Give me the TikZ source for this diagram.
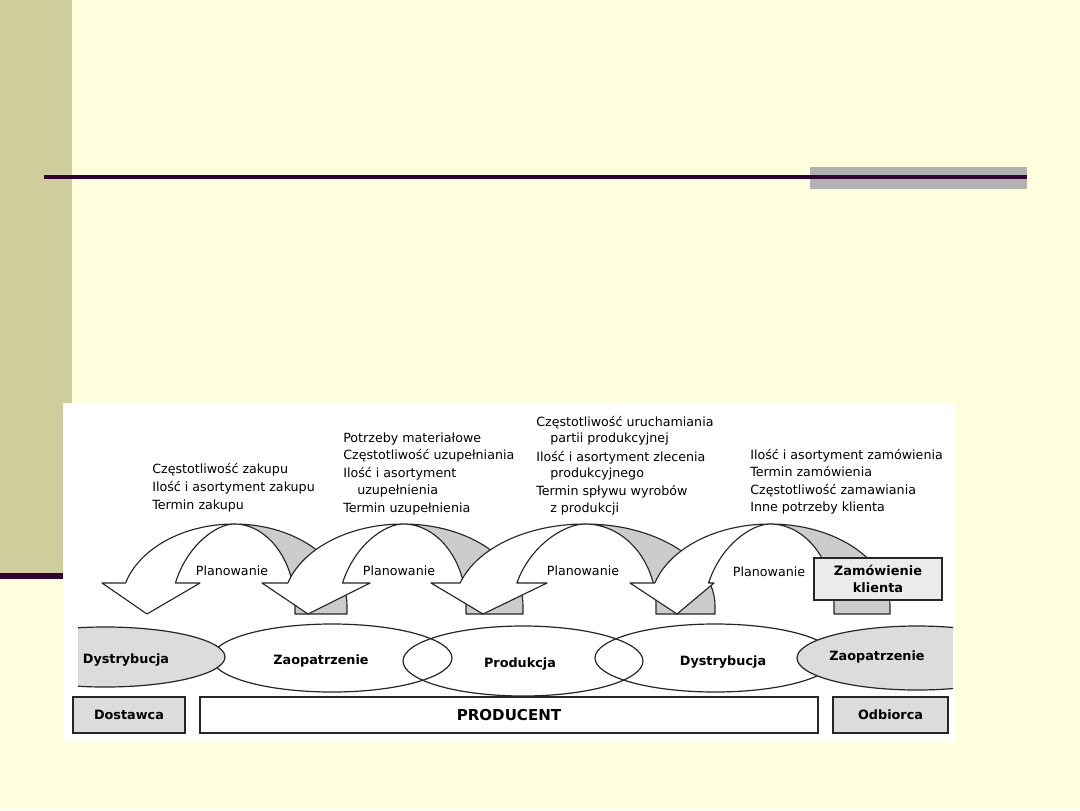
\documentclass[tikz,border=0pt]{standalone}
\usepackage{fontspec}
\setmainfont{DejaVu Sans}
\definecolor{cream}{HTML}{FFFFDD}
\definecolor{olive}{HTML}{CFCD9B}
\definecolor{plum}{HTML}{330033}
\definecolor{barg}{HTML}{B2B2B2}
\definecolor{ribg}{HTML}{CCCCCC}
\definecolor{lblg}{HTML}{DCDCDC}
\definecolor{boxg}{HTML}{EBEBEB}
\tikzset{
  ribline/.style={draw=black!85, line width=0.85pt, line join=round},
  txt/.style={inner sep=0pt, anchor=base west, font=\fontsize{9.5}{11}\selectfont},
  plan/.style={inner sep=0pt, font=\fontsize{9.5}{11}\selectfont},
  lbl/.style={inner sep=0pt, font=\fontsize{9.6}{11}\selectfont\bfseries},
  ell/.style={draw=black!85, line width=0.9pt},
  boxs/.style={draw=black!85, line width=0.8pt, inner sep=0pt},
}
\newcommand\ribbon[6]{%
  \filldraw[ribline, fill=ribg] (#1,524) arc[start angle=270,end angle=360,x radius=#2,y radius=82]
     -- ++(0,8) -- ({#1+#3},614) -- ({#1+#3},606)
     arc[start angle=0,end angle=-90,x radius=#3,y radius=82] -- cycle;
  \filldraw[ribline, fill=white] ({#1-0.9598*#2},583)
     arc[start angle=196.3,end angle=270,x radius=#2,y radius=82]
     .. controls ({#1-0.288*#3},524) and ({#1-0.768*#3},545) .. ({#1-0.96*#3},583)
     -- (#6,583) -- (#5,614) -- (#4,583) -- cycle;
}
\begin{document}
\begin{tikzpicture}[x=0.75pt,y=0.75pt,yscale=-1]
\useasboundingbox (0,0) rectangle (1080,810);
\fill[cream] (0,0) rectangle (1080,810);
\fill[olive] (0,0) rectangle (72,576);
\fill[plum] (0,573) rectangle (72,579);
\fill[barg] (810,167) rectangle (1027,189);
\fill[plum] (44,175) rectangle (1027,179);
\fill[white] (63,403) rectangle (955,742);

% text blocks
\node[txt] (t1a) at (152,473) {Częstotliwość zakupu};
\node[txt] (t1b) at (152,491) {Ilość i asortyment zakupu};
\node[txt] (t1c) at (152,509) {Termin zakupu};

\node[txt] (t2a) at (343,442) {Potrzeby materiałowe};
\node[txt] (t2b) at (343,459.5) {Częstotliwość uzupełniania};
\node[txt] (t2c) at (343,477) {Ilość i asortyment};
\node[txt] (t2d) at (357,494.5) {uzupełnienia};
\node[txt] (t2e) at (343,512) {Termin uzupełnienia};

\node[txt] (t3a) at (536,426) {Częstotliwość uruchamiania};
\node[txt] (t3b) at (550,442.5) {partii produkcyjnej};
\node[txt] (t3c) at (536,461) {Ilość i asortyment zlecenia};
\node[txt] (t3d) at (550,477.5) {produkcyjnego};
\node[txt] (t3e) at (536,495) {Termin spływu wyrobów};
\node[txt] (t3f) at (550,512.5) {z produkcji};

\node[txt] (t4a) at (750,459) {Ilość i asortyment zamówienia};
\node[txt] (t4b) at (750,476.5) {Termin zamówienia};
\node[txt] (t4c) at (750,494) {Częstotliwość zamawiania};
\node[txt] (t4d) at (750,511.8) {Inne potrzeby klienta};

% ribbon arrows
\ribbon{234}{113}{61}{102}{147}{200}
\ribbon{403}{120}{63}{262}{308}{370}
\ribbon{585}{130}{71}{431}{483}{547}
\ribbon{770}{120}{64}{630}{677}{714}

\node[plan] (p1) at (232,571) {Planowanie};
\node[plan] (p2) at (399,571) {Planowanie};
\node[plan] (p3) at (583,571) {Planowanie};
\node[plan] (p4) at (769,572) {Planowanie};

\node[boxs, fill=boxg, minimum width=96pt, minimum height=31.5pt, align=center, font=\fontsize{9.7}{12.5}\selectfont\bfseries] (zam) at (878,579) {Zamówienie\\klienta};

% ellipses
\fill[white] (332,658) ellipse[x radius=120,y radius=34];
\fill[white] (523,661) ellipse[x radius=120,y radius=35];
\fill[white] (715,658) ellipse[x radius=120,y radius=34];
\draw[ell] (332,658) ellipse[x radius=120,y radius=34];
\draw[ell] (523,661) ellipse[x radius=120,y radius=35];
\draw[ell] (715,658) ellipse[x radius=120,y radius=34];
\begin{scope}
\clip (78,600) rectangle (953,700);
\filldraw[ell, fill=lblg] (105,657) ellipse[x radius=120,y radius=30];
\filldraw[ell, fill=lblg] (917,658) ellipse[x radius=120,y radius=32];
\end{scope}

\node[lbl] (e1) at (126,660) {Dystrybucja};
\node[lbl] (e2) at (321,661) {Zaopatrzenie};
\node[lbl] (e3) at (520,664) {Produkcja};
\node[lbl] (e4) at (723,662) {Dystrybucja};
\node[lbl] (e5) at (877,657) {Zaopatrzenie};

% bottom boxes
\node[boxs, fill=lblg, minimum width=84pt, minimum height=27pt, font=\fontsize{9.6}{11}\selectfont\bfseries] (dost) at (129,715) {Dostawca};
\node[boxs, fill=white, minimum width=463.5pt, minimum height=27pt, font=\fontsize{11.3}{13}\selectfont\bfseries] (prod) at (509,715) {PRODUCENT};
\node[boxs, fill=lblg, minimum width=86.25pt, minimum height=27pt, font=\fontsize{9.6}{11}\selectfont\bfseries] (odb) at (890.5,715) {Odbiorca};
\end{tikzpicture}
\end{document}
